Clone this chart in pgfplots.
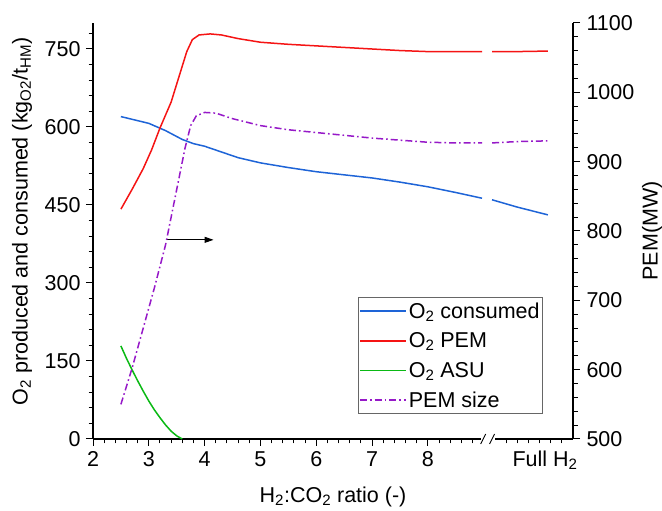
\documentclass[border=0pt]{standalone}
\usepackage{fontspec}
\setmainfont{Liberation Sans}
\usepackage{pgfplots}
\pgfplotsset{compat=1.18}
\usetikzlibrary{arrows.meta,calc}

\definecolor{cblue}{RGB}{30,100,215}
\definecolor{cred}{RGB}{245,20,20}
\definecolor{cgreen}{RGB}{10,185,20}
\definecolor{cpurple}{RGB}{150,25,200}
\newcommand{\lbl}{\fontsize{21.5}{25}\selectfont}

\pgfplotsset{
  base/.style={
    scale only axis, width=480pt, height=416pt,
    xmin=2, xmax=10.6, enlargelimits=false,
    tick align=outside, major tick length=7pt, minor tick length=4.5pt,
    tick style={black, line width=1pt},
    axis line style={-, line width=1.1pt},
    tick label style={font=\lbl},
    /pgf/number format/assume math mode=true,
    /pgf/number format/1000 sep={},
    every axis plot/.append style={line width=1.5pt},
    clip=false,
  },
  dashdot/.style={dash pattern=on 7pt off 3pt on 1.6pt off 3pt},
}

\begin{document}
\begin{tikzpicture}
\begin{axis}[base,
    axis x line*=bottom, axis y line*=left,
    xtick pos=bottom, ytick pos=left,
    ymin=0, ymax=800,
    ytick={0,150,...,750}, minor ytick={30,60,...,780},
    xtick={2,3,...,8},
    minor xtick={2.2,2.4,...,8.8,9.4,9.6,9.8,10.0,10.2,10.4},
    xticklabel style={yshift=-2pt},
    yticklabel style={xshift=-2pt},
    legend cell align=left,
    legend style={at={(rel axis cs:0.9375,0.341)}, anchor=north east,
      draw=black!60, line width=0.8pt, font=\lbl,
      inner xsep=1pt, inner ysep=3pt, row sep=9pt},
    legend image code/.code={\draw[#1] (0pt,0pt) -- (46pt,0pt);},
]
\addlegendimage{cblue, line width=1.5pt}
\addlegendimage{cred, line width=1.5pt}
\addlegendimage{cgreen, line width=1.5pt}
\addlegendimage{cpurple, dashdot, line width=1.5pt}
\legend{O\textsubscript{2} consumed, O\textsubscript{2} PEM, O\textsubscript{2} ASU, PEM size}
% O2 consumed
\addplot[cblue] coordinates {(2.5,620)(3.0,607)(3.3,593)(3.6,576)(3.8,568)(4.0,563)(4.3,552)(4.6,541)(5.0,531)(5.5,522)(6.0,514)(6.5,508)(7.0,502)(7.5,494)(8.0,485)(8.5,474)(8.97,463)};
% O2 PEM
\addplot[cred] coordinates {(2.5,442)(2.7,480)(2.9,520)(3.05,556)(3.2,598)(3.4,648)(3.55,700)(3.68,745)(3.78,768)(3.9,777)(4.1,779)(4.3,777)(4.6,770)(5.0,763)(5.5,759)(6.0,756)(6.5,753)(7.0,750)(7.5,747)(8.0,745)(8.5,745)(8.97,745)};
% O2 ASU
\addplot[cgreen] coordinates {(2.5,179)(2.6,155)(2.7,133)(2.8,112)(2.9,92)(3.0,73)(3.1,56)(3.2,41)(3.3,27)(3.4,15)(3.5,6)(3.6,0)};
% after the axis break
\addplot[cblue] coordinates {(9.15,460)(9.6,446)(10.15,431)};
\addplot[cred] coordinates {(9.15,745)(9.6,745)(10.15,746)};
% tick marks, drawn explicitly so they show at this scale
\pgfplotsinvokeforeach{2,3,4,5,6,7,8}{
  \draw[line width=1pt] (axis cs:#1,0) -- ([yshift=-7pt]axis cs:#1,0);}
\pgfplotsinvokeforeach{2.2,2.4,2.6,2.8,3.2,3.4,3.6,3.8,4.2,4.4,4.6,4.8,5.2,5.4,5.6,5.8,6.2,6.4,6.6,6.8,7.2,7.4,7.6,7.8,8.2,8.4,8.6,8.8,9.4,9.6,9.8,10.0,10.2,10.4}{
  \draw[line width=1pt] (axis cs:#1,0) -- ([yshift=-4.5pt]axis cs:#1,0);}
\pgfplotsinvokeforeach{0,150,300,450,600,750}{
  \draw[line width=1pt] (axis cs:2,#1) -- ([xshift=-7pt]axis cs:2,#1);}
\pgfplotsinvokeforeach{30,60,90,120,180,210,240,270,330,360,390,420,480,510,540,570,630,660,690,720,780}{
  \draw[line width=1pt] (axis cs:2,#1) -- ([xshift=-4.5pt]axis cs:2,#1);}
% arrow pointing to right axis
\draw[-{Triangle[length=9pt,width=6pt]}, line width=1pt] (axis cs:3.33,383) -- (axis cs:4.16,383);
% axis break
\fill[white] ([yshift=-9pt]axis cs:8.96,0) rectangle ([yshift=3pt]axis cs:9.2,0);
\draw[line width=0.9pt] ([xshift=-2.5pt,yshift=-5pt]axis cs:8.99,0) -- ([xshift=2.5pt,yshift=5pt]axis cs:8.99,0);
\draw[line width=0.9pt] ([xshift=-2.5pt,yshift=-5pt]axis cs:9.15,0) -- ([xshift=2.5pt,yshift=5pt]axis cs:9.15,0);
% axis titles and the Full H2 label
\node[font=\lbl, anchor=north] at ([yshift=-8pt]axis cs:10.1,0) {Full H\textsubscript{2}};
\node[font=\lbl] at ([yshift=-58pt]rel axis cs:0.5,0) {H\textsubscript{2}:CO\textsubscript{2} ratio (-)};
\node[font=\lbl, rotate=90] at ([xshift=-71pt]rel axis cs:0,0.523)
  {O\textsubscript{2} produced and consumed (kg\textsubscript{O2}/t\textsubscript{HM})};
\node[font=\lbl, rotate=90] at ([xshift=79pt]rel axis cs:1,0.5) {PEM(MW)};
\coordinate (bl) at (rel axis cs:0,0);
\coordinate (tr) at (rel axis cs:1,1);
\end{axis}

\begin{axis}[base,
    axis x line=none, axis y line*=right, ytick pos=right,
    ymin=500, ymax=1100,
    ytick={500,600,...,1100}, minor ytick={520,540,...,1080},
    yticklabel style={xshift=3pt},
]
\addplot[cpurple, dashdot] coordinates {(2.5,550)(2.7,602)(2.9,660)(3.1,718)(3.3,780)(3.5,860)(3.65,920)(3.75,952)(3.85,966)(4.0,971)(4.2,970)(4.5,962)(5.0,952)(5.5,946)(6.0,942)(6.5,938)(7.0,934)(7.5,931)(8.0,928)(8.5,927)(8.97,927)};
\addplot[cpurple, dashdot] coordinates {(9.15,927)(9.6,929)(10.15,930)};
\pgfplotsinvokeforeach{500,600,700,800,900,1000,1100}{
  \draw[line width=1pt] (axis cs:10.6,#1) -- ([xshift=7pt]axis cs:10.6,#1);}
\pgfplotsinvokeforeach{520,540,560,580,620,640,660,680,720,740,760,780,820,840,860,880,920,940,960,980,1020,1040,1060,1080}{
  \draw[line width=1pt] (axis cs:10.6,#1) -- ([xshift=4.5pt]axis cs:10.6,#1);}
\end{axis}
\pgfresetboundingbox
\path ($(bl)+(-93pt,-72pt)$) rectangle ($(tr)+(89pt,23pt)$);
\end{tikzpicture}
\end{document}
